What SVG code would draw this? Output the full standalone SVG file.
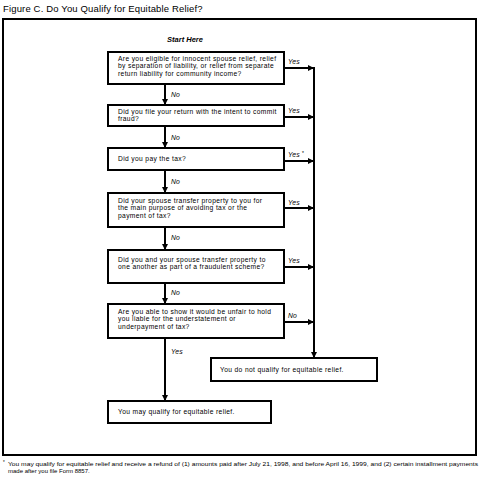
<svg xmlns="http://www.w3.org/2000/svg" width="481" height="490" viewBox="0 0 481 490">
<defs>
<marker id="ah" viewBox="0 0 10 10" refX="10" refY="5" markerWidth="3" markerHeight="3" orient="auto" markerUnits="strokeWidth">
<path d="M0,0 L10,5 L0,10 z" fill="#000"/>
</marker>
<style>
text{font-family:"Liberation Sans",Arial,sans-serif;fill:#000}
.t{font-size:6.7px;letter-spacing:0.35px}
.l{font-size:6.8px;font-style:italic;letter-spacing:0.15px}
.b{fill:#fff;stroke:#000;stroke-width:2}
.a{stroke:#000;stroke-width:2;fill:none;marker-end:url(#ah)}
</style>
</defs>
<rect width="481" height="490" fill="#fff"/>
<text x="3" y="12" style="font-size:9.5px;letter-spacing:0.15px">Figure C. Do You Qualify for Equitable Relief?</text>
<rect x="3" y="19" width="473" height="436" fill="none" stroke="#000" stroke-width="2"/>
<text x="185" y="42" text-anchor="middle" style="font-size:7.5px;font-weight:bold;font-style:italic">Start Here</text>

<g id="connectors">
<line class="a" x1="165" y1="84" x2="165" y2="105"/>
<line class="a" x1="165" y1="126" x2="165" y2="148"/>
<line class="a" x1="165" y1="170" x2="165" y2="193"/>
<line class="a" x1="165" y1="227" x2="165" y2="250"/>
<line class="a" x1="165" y1="283" x2="165" y2="304"/>
<line class="a" x1="165" y1="338" x2="165" y2="401"/>
<line class="a" x1="284" y1="68" x2="314" y2="68"/>
<line class="a" x1="284" y1="117" x2="314" y2="117"/>
<line class="a" x1="284" y1="161" x2="314" y2="161"/>
<line class="a" x1="284" y1="208" x2="314" y2="208"/>
<line class="a" x1="284" y1="267" x2="314" y2="267"/>
<line class="a" x1="284" y1="322" x2="314" y2="322"/>
<line class="a" x1="314" y1="67" x2="314" y2="358"/>
<text class="l" x="171" y="97">No</text>
<text class="l" x="171" y="140">No</text>
<text class="l" x="171" y="184">No</text>
<text class="l" x="171" y="240">No</text>
<text class="l" x="171" y="295">No</text>
<text class="l" x="171" y="354">Yes</text>
<text class="l" x="288" y="64">Yes</text>
<text class="l" x="288" y="113">Yes</text>
<text class="l" x="288" y="157">Yes <tspan dy="-2" style="font-size:5px">*</tspan></text>
<text class="l" x="288" y="205">Yes</text>
<text class="l" x="288" y="263">Yes</text>
<text class="l" x="288" y="318">No</text>
</g>

<g id="q1">
<rect class="b" x="108" y="52" width="176" height="32"/>
<text class="t" x="118" y="60.5">Are you eligible for innocent spouse relief, relief</text>
<text class="t" x="118" y="68.3">by separation of liability, or relief from separate</text>
<text class="t" x="118" y="76.1">return liability for community income?</text>
</g>
<g id="q2">
<rect class="b" x="108" y="105" width="176" height="21"/>
<text class="t" x="118" y="113.5">Did you file your return with the intent to commit</text>
<text class="t" x="118" y="121.3">fraud?</text>
</g>
<g id="q3">
<rect class="b" x="108" y="148" width="176" height="22"/>
<text class="t" x="118" y="161">Did you pay the tax?</text>
</g>
<g id="q4">
<rect class="b" x="108" y="193" width="176" height="34"/>
<text class="t" x="118" y="202.5">Did your spouse transfer property to you for</text>
<text class="t" x="118" y="210.3">the main purpose of avoiding tax or the</text>
<text class="t" x="118" y="218.1">payment of tax?</text>
</g>
<g id="q5">
<rect class="b" x="108" y="250" width="176" height="33"/>
<text class="t" x="118" y="261.5">Did you and your spouse transfer property to</text>
<text class="t" x="118" y="269.3">one another as part of a fraudulent scheme?</text>
</g>
<g id="q6">
<rect class="b" x="108" y="304" width="176" height="34"/>
<text class="t" x="118" y="313.5">Are you able to show it would be unfair to hold</text>
<text class="t" x="118" y="321.3">you liable for the understatement or</text>
<text class="t" x="118" y="329.1">underpayment of tax?</text>
</g>
<g id="notqualify">
<rect class="b" x="211" y="358" width="166" height="23"/>
<text class="t" x="220" y="372">You do not qualify for equitable relief.</text>
</g>
<g id="mayqualify">
<rect class="b" x="108" y="401" width="163" height="22"/>
<text class="t" x="118" y="414">You may qualify for equitable relief.</text>
</g>

<text x="3" y="464" style="font-size:4.5px">*</text>
<text x="8" y="466" style="font-size:6px" textLength="470" lengthAdjust="spacingAndGlyphs">You may qualify for equitable relief and receive a refund of (1) amounts paid after July 21, 1998, and before April 16, 1999, and (2) certain installment payments</text>
<text x="8" y="473" style="font-size:6px">made after you file Form 8857.</text>
</svg>
